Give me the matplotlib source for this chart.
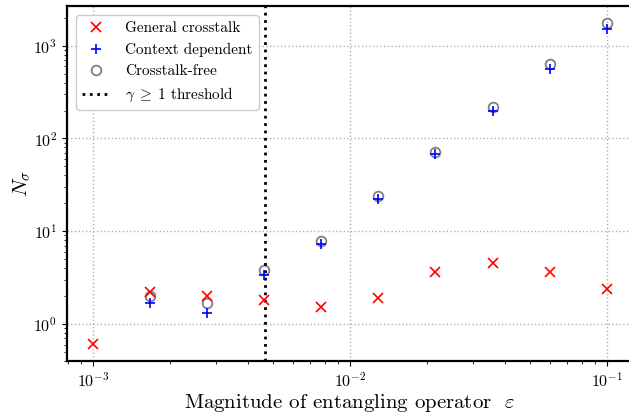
import numpy as np
import matplotlib
matplotlib.use("Agg")
import matplotlib.pyplot as plt

plt.rcParams['font.family'] = 'serif'
plt.rcParams['font.serif'] = ['cmr10']
plt.rcParams['mathtext.fontset'] = 'cm'
plt.rcParams['axes.formatter.use_mathtext'] = True

# magnitude of entangling operator
eps = [1.0e-3, 1.67e-3, 2.78e-3, 4.64e-3, 7.74e-3, 1.29e-2, 2.15e-2, 3.59e-2, 5.99e-2, 1.0e-1]

# N_sigma values
general = [0.61, 2.2, 2.0, 1.83, 1.51, 1.89, 3.65, 4.5, 3.6, 2.4]
context_eps = eps[1:]
context = [1.7, 1.32, 3.36, 7.2, 22, 68, 197, 560, 1510]
free_eps = eps[1:]
free = [2.0, 1.7, 3.82, 7.9, 24, 72, 216, 634, 1750]

threshold = 4.65e-3

fig = plt.figure(figsize=(6.29, 4.18), dpi=100)
# axes run off the right edge, as in the cropped original
ax = fig.add_axes([67/629, 1 - 361/418, 565/629, 355/418])

ax.plot(eps, general, 'x', color='red', ms=7, mew=1.2, label='General crosstalk', zorder=3)
ax.plot(context_eps, context, '+', color='blue', ms=7, mew=1.2, label='Context dependent', zorder=3)
ax.plot(free_eps, free, 'o', mfc='none', mec='grey', ms=7, mew=1.3, label='Crosstalk-free', zorder=2)
ax.axvline(threshold, color='black', ls=':', lw=2, label=r'$\gamma\;\geq\;1$ threshold')

ax.set_xscale('log')
ax.set_yscale('log')
ax.set_xlim(10**-3.101, 10**-0.903)
ax.set_ylim(10**-0.399, 10**3.428)

ax.grid(True, which='major', ls=':', color='#b0b0b0', lw=1)
for s in ax.spines.values():
    s.set_linewidth(1.6)
ax.tick_params(labelsize=11.5)

ax.set_xlabel(r'Magnitude of entangling operator  $\varepsilon$', fontsize=15, labelpad=2)
ax.set_ylabel(r'$N_\sigma$', fontsize=15, labelpad=1)

ax.legend(loc='upper left', fontsize=11, framealpha=1, labelspacing=0.5,
          borderaxespad=0.6, handlelength=1.8, handletextpad=1.0)

plt.savefig('out.png')
